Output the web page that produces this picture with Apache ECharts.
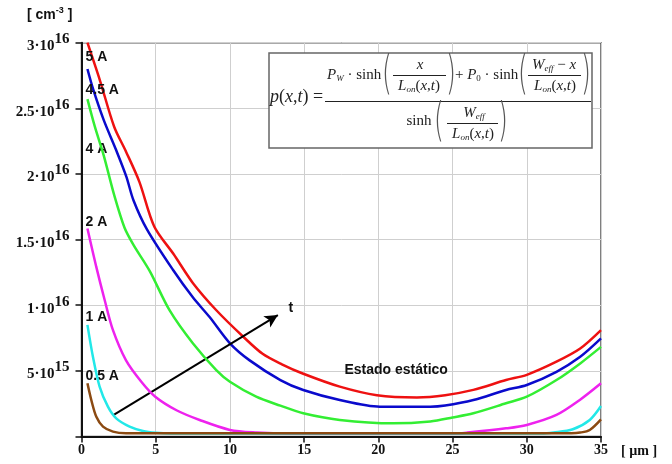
<!DOCTYPE html>
<html>
<head>
<meta charset="utf-8">
<script src="https://cdn.jsdelivr.net/npm/echarts@6/dist/echarts.min.js"></script>
<style>html,body{margin:0;padding:0;background:#fff}#c{width:672px;height:464px}</style>
</head>
<body>
<div id="c"></div>
<script>
// x in µm, values in units of 1e15 cm^-3
const curveNames = ['5 A', '4.5 A', '4 A', '2 A', '1 A', '0.5 A'];
const curve5A = [[0.4,30.0],[1.25,27.1],[2.2,23.6],[3.0,21.7],[3.9,19.4],[4.9,16.0],[6.2,13.9],[7.5,11.7],[9.1,9.6],[10.9,7.6],[12.2,6.3],[13.5,5.5],[14.9,4.8],[17.4,3.8],[19.9,3.15],[22.6,2.98],[24.5,3.15],[26.4,3.55],[28.6,4.3],[30,4.7],[32,5.7],[33.6,6.7],[35,8.1]];
const curve45A = [[0.4,28.0],[0.8,26.4],[1.5,24.1],[2.34,21.8],[3.02,19.8],[3.5,18.0],[4.4,15.8],[6.16,12.7],[7.5,10.6],[8.63,9.1],[10.0,7.1],[11.33,5.8],[13.4,4.3],[14.94,3.54],[17.4,2.78],[20.1,2.27],[23.5,2.27],[24.5,2.36],[26.4,2.78],[28.6,3.54],[30,3.92],[32,4.93],[33.6,6.07],[35,7.47]];
const curve4A = [[0.4,25.7],[0.9,23.6],[1.5,21.4],[2.2,18.4],[2.9,15.9],[3.5,14.6],[4.6,12.6],[5.94,9.6],[7.5,7.1],[9.08,5.06],[10.0,4.17],[11.77,3.03],[13.4,2.35],[14.94,1.77],[17.4,1.26],[21.0,1.0],[23.5,1.15],[25,1.45],[26.4,1.77],[28.6,2.53],[30,3.03],[32,4.3],[33.6,5.57],[35,6.83]];
const curve2A = [[0.4,15.85],[1.0,12.9],[1.56,10.4],[2.12,8.1],[3.0,5.8],[4.03,4.17],[4.97,3.03],[6.4,2.0],[7.96,1.26],[10.0,0.5],[11.8,0.3],[14,0.22],[25,0.22],[26,0.3],[28.6,0.62],[30,0.88],[32,1.64],[33.57,2.78],[35,4.05]];
const curve1A = [[0.4,8.5],[0.77,6.07],[1.22,3.8],[1.78,2.27],[2.34,1.38],[3.24,0.75],[4.14,0.42],[5.0,0.28],[6,0.22],[31,0.22],[31.8,0.3],[33.1,0.55],[34.24,1.26],[35,2.32]];
const curve05A = [[0.4,4.05],[0.66,2.78],[1.0,1.5],[1.45,0.75],[2.12,0.37],[3.0,0.25],[33,0.25],[33.6,0.3],[34.24,0.5],[35,1.31]];
const curveData = [curve5A, curve45A, curve4A, curve2A, curve1A, curve05A];
const curveLabelValues = [28.9, 26.4, 21.9, 16.35, 9.12, 4.6];
const xTickLabels = ['0','5','10','15','20','25','30','35'];
const yTickMantissa = ['', '5', '1', '1.5', '2', '2.5', '3'];
const yTickExponent = ['', '15', '16', '16', '16', '16', '16'];

const colors = ['#ee1111', '#0a0acc', '#33ee33', '#ee22ee', '#22e8e8', '#8b4a12'];
const serifB = 'bold 14px "Liberation Serif", "Times New Roman", serif';
const sansB = 'bold 14px "Liberation Sans", Arial, sans-serif';

const chart = echarts.init(document.getElementById('c'), null, {renderer: 'canvas'});

const series = curveData.map((d, i) => ({
  type: 'line',
  data: d,
  smooth: 0.3,
  symbol: 'none',
  lineStyle: {color: colors[i], width: 2.5},
  z: 3 + i,
  animation: false,
  markPoint: {
    symbol: 'circle', symbolSize: 0, silent: true, animation: false,
    label: {show: true, position: 'right', distance: 4, formatter: curveNames[i],
      color: '#111', fontFamily: '"Liberation Sans", Arial, sans-serif', fontWeight: 'bold', fontSize: 14},
    data: [{coord: [0, curveLabelValues[i]]}]
  }
}));

// arrow and annotations
series.push({
  type: 'line', data: [], symbol: 'none', z: 20, animation: false,
  markLine: {
    silent: true, animation: false, symbol: ['none', 'arrow'], symbolSize: [10, 13],
    lineStyle: {color: '#000', width: 2, type: 'solid'}, label: {show: false},
    data: [[{coord: [2.17, 1.64]}, {coord: [13.23, 9.25]}]]
  },
  markPoint: {
    symbol: 'circle', symbolSize: 0, silent: true, animation: false,
    label: {show: true, position: 'inside', color: '#111', fontFamily: '"Liberation Sans", Arial, sans-serif', fontWeight: 'bold', fontSize: 14},
    data: [
      {coord: [14.1, 9.78], label: {formatter: 't'}},
      {coord: [21.2, 5.06], label: {formatter: 'Estado estático'}}
    ]
  }
});

// formula box
const richF = {
  i: {font: 'italic 15px "Liberation Serif", serif', fill: '#222'},
  r: {font: '15px "Liberation Serif", serif', fill: '#222'},
  s: {font: 'italic 9px "Liberation Serif", serif', fill: '#222', padding: [7, 0, 0, 0]},
  s0: {font: '9px "Liberation Serif", serif', fill: '#222', padding: [7, 0, 0, 0]},
  I: {font: 'italic 18px "Liberation Serif", serif', fill: '#222'},
  R: {font: '18px "Liberation Serif", serif', fill: '#222'}
};
function txt(x, y, text, align) {
  return {type: 'text', x: x, y: y, z: 51,
    style: {text: text, rich: richF, align: align || 'center', verticalAlign: 'middle', fill: '#222'}};
}
function bar(x1, x2, y) {
  return {type: 'line', z: 51, shape: {x1: x1, y1: y, x2: x2, y2: y}, style: {stroke: '#222', lineWidth: 1}};
}
function paren(x, y, ch, size) {
  return {type: 'text', x: x, y: y, z: 51, scaleX: 0.55, originX: 0, originY: 0,
    style: {text: ch, font: '200 ' + size + 'px "DejaVu Sans", sans-serif', fill: '#555', align: 'center', verticalAlign: 'middle'}};
}
const lon = '{i|L}{s|on}{r|(}{i|x}{r|,}{i|t}{r|)}';
const graphic = [
  {type: 'rect', z: 50, shape: {x: 269, y: 53, width: 323, height: 95}, style: {fill: '#fff', stroke: '#666', lineWidth: 1.5}},
  txt(270, 97, '{I|p}{R|(}{I|x}{R|,}{I|t}{R|) =}', 'left'),
  bar(325, 591, 101.5),
  txt(327, 75, '{i|P}{s|W}{r| · sinh}', 'left'),
  paren(387, 76, '(', 46),
  txt(420, 65, '{i|x}'),
  bar(393, 446, 75.5),
  txt(419, 86, lon),
  paren(451, 76, ')', 46),
  txt(455, 75, '{r|+ }{i|P}{s0|0}{r| · sinh}', 'left'),
  paren(523, 76, '(', 46),
  txt(554, 65, '{i|W}{s|eff}{r| − }{i|x}'),
  bar(528, 581, 75.5),
  txt(555, 86, lon),
  paren(586, 76, ')', 46),
  txt(419, 121, '{r|sinh}'),
  paren(439, 123, '(', 46),
  txt(474, 113, '{i|W}{s|eff}'),
  bar(447, 498, 123.5),
  txt(473, 134, lon),
  paren(503, 123, ')', 46),
  // axis units
  {type: 'text', x: 27, y: 15, z: 30, style: {text: '{a|[ cm}{s|-3}{a| ]}', align: 'left', verticalAlign: 'middle',
    rich: {a: {font: sansB, fill: '#111'}, s: {font: 'bold 9px "Liberation Sans", Arial, sans-serif', fill: '#111', padding: [0, 0, 9, 0]}}}},
  {type: 'text', x: 621, y: 451, z: 30, style: {text: '[ µm ]', font: serifB, fill: '#111', align: 'left', verticalAlign: 'middle'}}
];

const option = {
  backgroundColor: '#fff',
  animation: false,
  grid: {left: 81.5, right: 71, top: 42.7, bottom: 27.5, show: true, borderColor: '#555', borderWidth: 1.5},
  xAxis: {
    type: 'value', min: 0, max: 35, interval: 5,
    axisLine: {show: true, onZero: false, lineStyle: {color: '#111', width: 2}},
    axisTick: {show: true, length: 6, lineStyle: {color: '#111', width: 1.5}},
    splitLine: {show: true, lineStyle: {color: '#cfcfcf', width: 1}},
    axisLabel: {margin: 7, color: '#111', fontFamily: '"Liberation Serif", "Times New Roman", serif', fontWeight: 'bold', fontSize: 14,
      formatter: (v) => xTickLabels[Math.round(v / 5)]}
  },
  yAxis: {
    type: 'value', min: 0, max: 30, interval: 5,
    axisLine: {show: true, onZero: false, lineStyle: {color: '#111', width: 2}},
    axisTick: {show: true, length: 6, lineStyle: {color: '#111', width: 1.5}},
    splitLine: {show: true, lineStyle: {color: '#cfcfcf', width: 1}},
    axisLabel: {
      margin: 12,
      formatter: (v) => {
        const k = Math.round(v / 5);
        if (!yTickMantissa[k]) return '';
        return '{m|' + yTickMantissa[k] + '·10}{e|' + yTickExponent[k] + '}';
      },
      rich: {
        m: {fontFamily: '"Liberation Serif", "Times New Roman", serif', fontWeight: 'bold', fontSize: 15, color: '#111', lineHeight: 22, verticalAlign: 'bottom'},
        e: {fontFamily: '"Liberation Serif", "Times New Roman", serif', fontWeight: 'bold', fontSize: 15, color: '#111', lineHeight: 22, verticalAlign: 'top'}
      }
    }
  },
  series: series,
  graphic: graphic
};
chart.setOption(option);
</script>
</body>
</html>
